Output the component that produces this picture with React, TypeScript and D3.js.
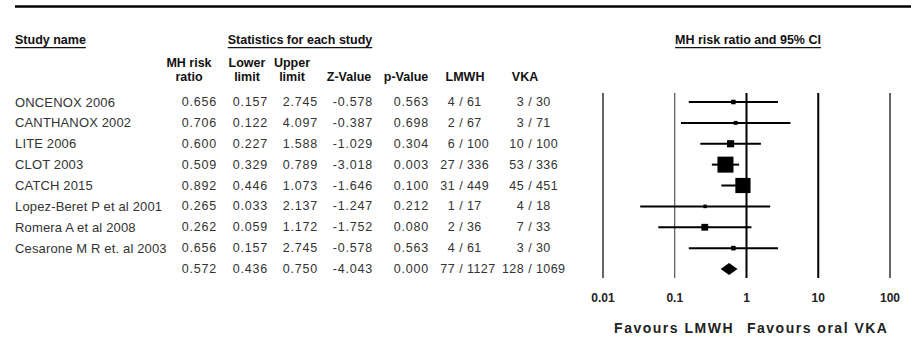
import * as d3 from 'd3';

const studies = [
  'ONCENOX 2006',
  'CANTHANOX 2002',
  'LITE 2006',
  'CLOT 2003',
  'CATCH 2015',
  'Lopez-Beret P et al 2001',
  'Romera A et al 2008',
  'Cesarone M R et. al 2003',
  '',
];
const ratio = [0.656, 0.706, 0.6, 0.509, 0.892, 0.265, 0.262, 0.656, 0.572];
const lower = [0.157, 0.122, 0.227, 0.329, 0.446, 0.033, 0.059, 0.157, 0.436];
const upper = [2.745, 4.097, 1.588, 0.789, 1.073, 2.137, 1.172, 2.745, 0.75];
const zValue = [-0.578, -0.387, -1.029, -3.018, -1.646, -1.247, -1.752, -0.578, -4.043];
const pValue = [0.563, 0.698, 0.304, 0.003, 0.1, 0.212, 0.08, 0.563, 0.0];
const lmwh = ['4 / 61', '2 / 67', '6 / 100', '27 / 336', '31 / 449', '1 / 17', '2 / 36', '4 / 61', '77 / 1127'];
const vka = ['3 / 30', '3 / 71', '10 / 100', '53 / 336', '45 / 451', '4 / 18', '7 / 33', '3 / 30', '128 / 1069'];
// relative study weights (marker area)
const weight = [4, 3, 10, 50, 45, 2.5, 9, 4];
const axisTicks = [0.01, 0.1, 1, 10, 100];

const W = 911;
const H = 345;
const font = 'Liberation Sans, Arial, sans-serif';

export default function App() {
  const x = d3.scaleLog().domain([0.01, 100]).range([603, 890]);
  const y = d3.scaleLinear().domain([0, studies.length - 1]).range([102, 269]);
  const size = d3.scaleSqrt().domain([0, d3.max(weight)!]).range([0, 16]);
  const last = studies.length - 1;

  const numCols = [
    { right: 217, vals: ratio },
    { right: 268, vals: lower },
    { right: 318, vals: upper },
    { right: 373, vals: zValue },
    { right: 429, vals: pValue },
  ];
  // events / total columns, aligned on the slash
  const fracCols = [
    { slash: 461, vals: lmwh },
    { slash: 530, vals: vka },
  ];
  const headers = [
    { cx: 189, l1: 'MH risk', l2: 'ratio' },
    { cx: 247, l1: 'Lower', l2: 'limit' },
    { cx: 292, l1: 'Upper', l2: 'limit' },
    { cx: 349, l1: '', l2: 'Z-Value' },
    { cx: 406, l1: '', l2: 'p-Value' },
    { cx: 465, l1: '', l2: 'LMWH' },
    { cx: 525, l1: '', l2: 'VKA' },
  ];

  const txt = { fontFamily: font, fontSize: 12.5, fill: '#333' };
  const bold = { fontFamily: font, fontSize: 12.5, fontWeight: 700, fill: '#111' };

  return (
    <svg width={W} height={H} style={{ position: 'absolute', left: 0, top: 0, background: '#fff' }}>
      <line x1={15} x2={W} y1={6.5} y2={6.5} stroke="#000" strokeWidth={2.5} />

      <text x={15} y={40} {...bold} dominantBaseline="central" textDecoration="underline">Study name</text>
      <text x={300} y={40} {...bold} dominantBaseline="central" textAnchor="middle" textDecoration="underline">Statistics for each study</text>
      <text x={748} y={40} {...bold} dominantBaseline="central" textAnchor="middle" textDecoration="underline">MH risk ratio and 95% CI</text>

      {headers.map((h, i) => (
        <g key={i}>
          {h.l1 && <text x={h.cx} y={63} {...bold} textAnchor="middle" dominantBaseline="central">{h.l1}</text>}
          <text x={h.cx} y={77} {...bold} textAnchor="middle" dominantBaseline="central">{h.l2}</text>
        </g>
      ))}

      {studies.map((s, i) => (
        <g key={i}>
          <text x={15} y={y(i)} {...txt} fontSize={13} letterSpacing={0.15} dominantBaseline="central">{s}</text>
          {numCols.map((c, j) => (
            <text key={j} x={c.right} y={y(i)} {...txt} letterSpacing={0.8} textAnchor="end" dominantBaseline="central">
              {c.vals[i].toFixed(3)}
            </text>
          ))}
          {fracCols.map((c, j) => {
            const [num, den] = c.vals[i].split(' / ');
            return (
              <g key={j}>
                <text x={c.slash - 6} y={y(i)} {...txt} letterSpacing={0.4} textAnchor="end" dominantBaseline="central">{num}</text>
                <text x={c.slash} y={y(i)} {...txt} textAnchor="middle" dominantBaseline="central">/</text>
                <text x={c.slash + 6} y={y(i)} {...txt} letterSpacing={0.4} dominantBaseline="central">{den}</text>
              </g>
            );
          })}
        </g>
      ))}

      {axisTicks.map((t) => (
        <g key={t}>
          <line
            x1={x(t)} x2={x(t)} y1={93} y2={278}
            stroke={t === 1 || t === 10 ? '#000' : '#333'}
            strokeWidth={t === 1 || t === 10 ? 2 : t === 0.1 ? 1 : 1.5}
          />
          <text x={x(t)} y={298} {...bold} fontSize={12} textAnchor="middle" dominantBaseline="central" fill="#222">{t}</text>
        </g>
      ))}

      {studies.slice(0, last).map((_, i) => (
        <g key={i}>
          <line x1={x(lower[i])} x2={x(upper[i])} y1={y(i)} y2={y(i)} stroke="#000" strokeWidth={2} />
          <rect
            x={x(ratio[i]) - size(weight[i]) / 2}
            y={y(i) - size(weight[i]) / 2}
            width={size(weight[i])}
            height={size(weight[i])}
            fill="#000"
          />
        </g>
      ))}
      <path
        d={`M${x(lower[last])},${y(last)} L${x(ratio[last])},${y(last) - 6} L${x(upper[last])},${y(last)} L${x(ratio[last])},${y(last) + 6} Z`}
        fill="#000"
      />

      <text x={734} y={328} {...bold} fontSize={14} letterSpacing={1.5} textAnchor="end" dominantBaseline="central" fill="#222">Favours LMWH</text>
      <text x={747} y={328} {...bold} fontSize={14} letterSpacing={1.5} dominantBaseline="central" fill="#222">Favours oral VKA</text>
    </svg>
  );
}
